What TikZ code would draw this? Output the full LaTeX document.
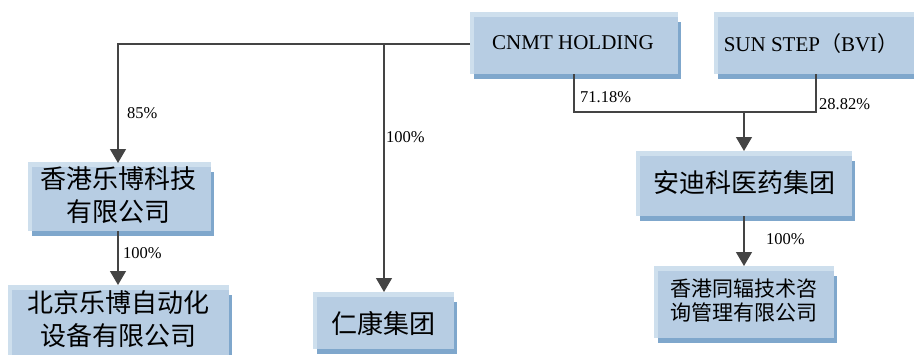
\documentclass[tikz,border=0pt]{standalone}
\usepackage{fontspec}
\setmainfont{Liberation Serif}
\newfontfamily\cjk{Noto Sans CJK SC}
\usetikzlibrary{arrows.meta,backgrounds}
\definecolor{bmain}{RGB}{183,205,227}
\definecolor{blight}{RGB}{206,223,237}
\definecolor{bdark}{RGB}{127,167,204}
\definecolor{lncol}{RGB}{68,68,68}
\newcommand\boxdeco[1]{%
  \begin{scope}[on background layer]
    \fill[bdark] ([yshift=-5pt]#1.north west) rectangle ([shift={(3pt,-5pt)}]#1.south east);
    \fill[blight] ([shift={(-4pt,5pt)}]#1.north west) rectangle (#1.south east);
  \end{scope}}
\begin{document}
\begin{tikzpicture}[x=1pt,y=-1pt,
  box/.style={rectangle,fill=bmain,inner sep=0pt,outer sep=0pt},
  lat/.style={inner sep=0pt,font=\fontsize{21}{24}\selectfont},
  zh/.style={inner sep=0pt,align=center,font=\cjk\fontsize{26}{33}\selectfont},
  zhs/.style={inner sep=0pt,align=center,font=\cjk\fontsize{21}{24}\selectfont},
  pct/.style={inner sep=0pt,anchor=west,font=\fontsize{16.5}{18}\selectfont},
  ln/.style={draw=lncol,line width=1.2pt},
  arr/.style={ln,-{Triangle[width=16pt,length=14pt]},color=lncol}]
\useasboundingbox (0,0) rectangle (914,354);
% boxes
\node[box,minimum width=204pt,minimum height=57pt] (cnmt) at (576,45.5) {};
\node[box,minimum width=206pt,minimum height=57pt] (sun) at (821,45.5) {};
\node[box,minimum width=212pt,minimum height=60pt] (adk) at (746,186) {};
\node[box,minimum width=176pt,minimum height=67pt] (tf) at (746,304.5) {};
\node[box,minimum width=179pt,minimum height=64pt] (hklb) at (121.5,199) {};
\node[box,minimum width=217pt,minimum height=80pt] (bjlb) at (120.5,330) {};
\node[box,minimum width=137pt,minimum height=52pt] (rk) at (385.5,323) {};
\boxdeco{cnmt}\boxdeco{sun}\boxdeco{adk}\boxdeco{tf}\boxdeco{hklb}\boxdeco{bjlb}\boxdeco{rk}
% texts
\node[lat] (cnmtt) at (573,42.5) {CNMT HOLDING};
\node[lat] (sunt) at (811,43.5) {SUN STEP{\cjk （}BVI{\cjk ）}};
\node[zh] (adkt) at (744.5,183) {安迪科医药集团};
\node[zhs] (tft) at (744,301) {香港同辐技术咨\\询管理有限公司};
\node[zh] (hklbt) at (118.5,195.5) {香港乐博科技\\有限公司};
\node[zh] (bjlbt) at (118.5,319.5) {北京乐博自动化\\设备有限公司};
\node[zh] (rkt) at (383.5,323) {仁康集团};
% connectors
\coordinate (jr) at (384,44);
\coordinate (jm) at (744,112);
\draw[arr] ([shift={(-4pt,1.5pt)}]cnmt.west) -| ([shift={(-3.5pt,4pt)}]hklb.north);
\draw[arr] (jr) -- ([yshift=5pt]jr |- rk.north);
\draw[ln] ([xshift=-2pt]cnmt.south) |- ([xshift=-5pt]sun.south |- jm) -- ([xshift=-5pt]sun.south);
\draw[arr] (jm) -- ([shift={(-2pt,5pt)}]adk.north);
\draw[arr] ([xshift=-2pt]adk.south) -- ([shift={(-2pt,5pt)}]tf.north);
\draw[arr] ([xshift=-3.5pt]hklb.south) -- ([shift={(-2.5pt,5pt)}]bjlb.north);
% labels
\node[pct] (p85) at (127,113) {85\%};
\node[pct] (p100a) at (386,137) {100\%};
\node[pct] (p7118) at (580,97.5) {71.18\%};
\node[pct] (p2882) at (819,104) {28.82\%};
\node[pct] (p100b) at (766,239) {100\%};
\node[pct] (p100c) at (123,253) {100\%};
\end{tikzpicture}
\end{document}
